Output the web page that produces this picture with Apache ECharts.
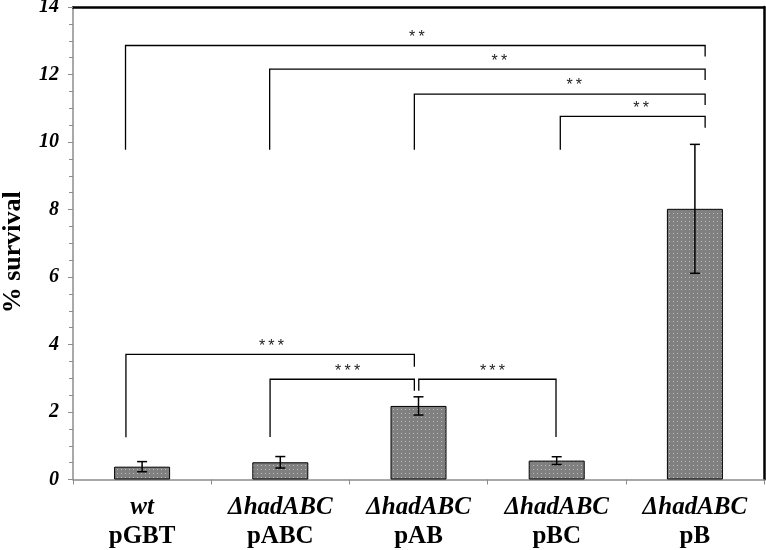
<!DOCTYPE html>
<html>
<head>
<meta charset="utf-8">
<script src="https://cdn.jsdelivr.net/npm/echarts@6/dist/echarts.min.js"></script>
<style>html,body{margin:0;padding:0;background:#fff}#c{width:766px;height:550px}</style>
</head>
<body>
<div id="c"></div>
<script>
// ---- data ----
const strains = ['wt', 'ΔhadABC', 'ΔhadABC', 'ΔhadABC', 'ΔhadABC'];
const plasmids = ['pGBT', 'pABC', 'pAB', 'pBC', 'pB'];
const survival = [0.38, 0.51, 2.18, 0.56, 8.02];
const survivalErr = [0.15, 0.17, 0.27, 0.115, 1.91];
const yTicks = [0, 2, 4, 6, 8, 10, 12, 14];
// brackets: [x1, x2, yBar, leg1Bottom, leg2Bottom, labelX] in category units / % survival
const brackets = [
  [-0.12, 4.074, 12.86, 9.77, 12.53, 1.988],
  [0.923, 4.074, 12.16, 9.77, 11.84, 2.585],
  [1.97, 4.074, 11.42, 9.77, 11.10, 3.127],
  [3.026, 4.074, 10.76, 9.77, 10.42, 3.611],
  [-0.117, 1.97, 3.71, 1.25, 3.34, 0.936],
  [0.926, 1.97, 2.97, 1.26, 2.63, 1.487],
  [2.002, 2.995, 2.97, 2.63, 1.26, 2.535]
];
const bracketLabels = ['*\u2009*', '*\u2009*', '*\u2009*', '*\u2009*', '*\u2009*\u2009*', '*\u2009*\u2009*', '*\u2009*\u2009*'];

// dotted fill pattern
const pc = document.createElement('canvas');
pc.width = 4; pc.height = 4;
const g = pc.getContext('2d');
g.fillStyle = '#808080'; g.fillRect(0, 0, 4, 4);
g.fillStyle = '#bdbdbd'; g.fillRect(1, 1, 1, 1);

const serif = '"Liberation Serif", "Times New Roman", serif';
const chart = echarts.init(document.getElementById('c'), null, {renderer: 'canvas'});
chart.setOption({
  animation: false,
  backgroundColor: '#fff',
  grid: {left: 73, right: 2, top: 7, bottom: 70.5, outerBoundsMode: 'none', containLabel: false},
  xAxis: [{
    type: 'category',
    data: plasmids,
    position: 'bottom',
    axisLine: {onZero: false, lineStyle: {color: '#8c8c8c', width: 1.5}},
    axisTick: {show: true, alignWithLabel: false, length: 5, lineStyle: {color: '#8c8c8c'}},
    axisLabel: {
      margin: 14,
      interval: 0,
      formatter: function (v, i) { return '{s|' + strains[i] + '}\n{p|' + plasmids[i] + '}'; },
      rich: {
        s: {fontFamily: serif, fontWeight: 'bold', fontStyle: 'italic', fontSize: 25, lineHeight: 29, color: '#000'},
        p: {fontFamily: serif, fontWeight: 'bold', fontSize: 25, lineHeight: 29, color: '#000'}
      }
    },
    splitLine: {show: false}
  }, {
    type: 'value',
    position: 'top',
    min: -0.5, max: 4.5,
    axisLine: {show: true, onZero: false, lineStyle: {color: '#000', width: 2.5}},
    axisTick: {show: false}, axisLabel: {show: false}, splitLine: {show: false}
  }],
  yAxis: [{
    type: 'value',
    position: 'left',
    min: 0, max: 14, interval: 2,
    name: '% survival',
    nameLocation: 'middle',
    nameRotate: 90,
    nameGap: 47,
    nameTextStyle: {fontFamily: serif, fontWeight: 'bold', fontSize: 26, color: '#000', padding: [0, 18, 0, 0]},
    axisLine: {show: true, onZero: false, lineStyle: {color: '#8c8c8c', width: 1.5}},
    axisTick: {show: true, length: 5, lineStyle: {color: '#8c8c8c'}},
    minorTick: {show: true, splitNumber: 4, length: 4, lineStyle: {color: '#8c8c8c'}},
    axisLabel: {
      margin: 14,
      fontFamily: serif, fontWeight: 'bold', fontStyle: 'italic', fontSize: 20, color: '#000',
      formatter: function (v) { return yTicks.indexOf(v) >= 0 ? String(v) : ''; }
    },
    splitLine: {show: false}
  }, {
    type: 'value',
    position: 'right',
    min: 0, max: 14,
    axisLine: {show: true, onZero: false, lineStyle: {color: '#000', width: 2.5}},
    axisTick: {show: false}, axisLabel: {show: false}, splitLine: {show: false}
  }],
  series: [{
    type: 'bar',
    xAxisIndex: 0, yAxisIndex: 0,
    data: survival,
    barWidth: 56,
    itemStyle: {color: {image: pc, repeat: 'repeat'}, borderColor: '#000', borderWidth: 1}
  }, {
    type: 'custom',
    xAxisIndex: 0, yAxisIndex: 0,
    data: survival.map(function (v, i) { return [i, v - survivalErr[i], v + survivalErr[i]]; }),
    renderItem: function (params, api) {
      const lo = api.coord([api.value(0), api.value(1)]);
      const hi = api.coord([api.value(0), api.value(2)]);
      const w = 5;
      const st = {stroke: '#000', lineWidth: 1.5};
      return {type: 'group', children: [
        {type: 'line', shape: {x1: hi[0], y1: hi[1], x2: lo[0], y2: lo[1]}, style: st},
        {type: 'line', shape: {x1: hi[0] - w, y1: hi[1], x2: hi[0] + w, y2: hi[1]}, style: st},
        {type: 'line', shape: {x1: lo[0] - w, y1: lo[1], x2: lo[0] + w, y2: lo[1]}, style: st}
      ]};
    },
    z: 5
  }, {
    type: 'custom',
    xAxisIndex: 1, yAxisIndex: 0,
    data: brackets,
    renderItem: function (params, api) {
      const x1 = api.value(0), x2 = api.value(1), y = api.value(2);
      const pts = [api.coord([x1, api.value(3)]), api.coord([x1, y]), api.coord([x2, y]), api.coord([x2, api.value(4)])];
      const t = api.coord([api.value(5), y]);
      return {type: 'group', children: [
        {type: 'polyline', shape: {points: pts}, style: {stroke: '#000', lineWidth: 1.3, fill: null}},
        {type: 'text', x: t[0], y: t[1] - 8, style: {text: bracketLabels[params.dataIndex], fill: '#222',
          font: '16px "Liberation Sans", Arial, sans-serif', align: 'center', verticalAlign: 'middle'}}
      ]};
    },
    z: 6
  }]
});
</script>
</body>
</html>
